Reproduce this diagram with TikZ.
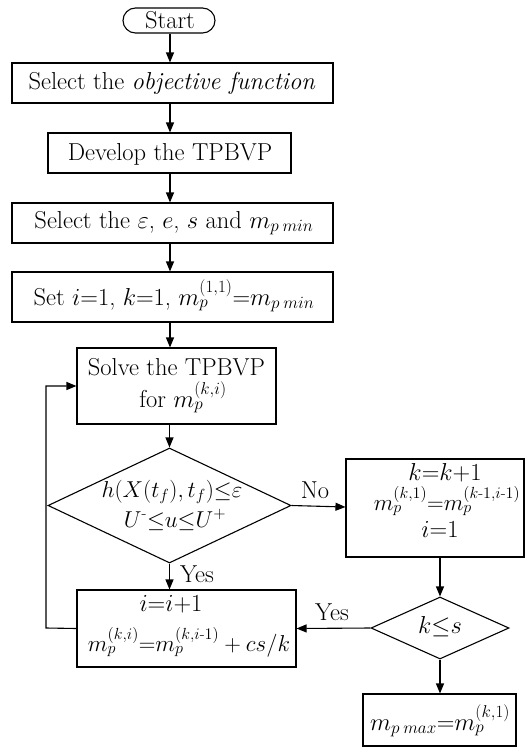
\RequirePackage{fix-cm}
\documentclass[tikz,border=0pt]{standalone}
\usepackage{amsmath}
\usetikzlibrary{shapes.geometric,shapes.misc,arrows.meta}
\begin{document}
\begin{tikzpicture}[x=1pt,y=-1pt,
  every node/.style={font=\fontsize{24.5}{30}\selectfont},
  small/.style={font=\fontsize{23}{28}\selectfont},
  box/.style={draw,line width=1.1pt,rectangle,inner sep=0pt},
  dia/.style={draw,line width=1.1pt,diamond,inner sep=0pt},
  term/.style={draw,line width=1.1pt,rounded rectangle,inner sep=0pt},
  arr/.style={line width=1.1pt,-{Triangle[length=10pt,width=8pt]}},
  txt/.style={inner sep=0pt,anchor=base}]
\useasboundingbox (0,0) rectangle (528,747);
% shapes
\node[term,minimum width=92,minimum height=25] (start) at (169,20.5) {};
\node[box,minimum width=321,minimum height=40] (b1) at (172.5,83) {};
\node[box,minimum width=243,minimum height=40] (b2) at (169.5,153) {};
\node[box,minimum width=321,minimum height=40] (b3) at (172.5,223) {};
\node[box,minimum width=321,minimum height=50] (b4) at (172.5,297) {};
\node[box,minimum width=199,minimum height=76] (b5) at (176.5,386) {};
\node[dia,minimum width=243,minimum height=115] (d1) at (169.5,505.5) {};
\node[box,minimum width=178,minimum height=98] (rb) at (435,508) {};
\node[box,minimum width=219,minimum height=77] (b6) at (186.5,628.5) {};
\node[dia,minimum width=138,minimum height=62] (d2) at (440,628) {};
\node[box,minimum width=153,minimum height=52] (fb) at (439.5,720) {};
% texts
\node[txt] (t0) at (170,28) {Start};
\node[txt] (t1) at (172,89) {Select the \textit{objective function}};
\node[txt] (t2) at (170,160) {Develop the TPBVP};
\node[txt] (t3) at (174,228) {Select the $\varepsilon$, $e$, $s$ and $m_{p\:min}$};
\node[txt] (t4) at (174,305) {Set $i{=}1$, $k{=}1$, $m_p^{(1,1)}{=}m_{p\:min}$};
\node[txt] (t5a) at (176.5,375) {Solve the TPBVP};
\node[txt] (t5b) at (183,407) {for $m_p^{(k,i)}$};
\node[txt,small] (t6a) at (172,497) {$h(X(t_f),t_f){\le}\varepsilon$};
\node[txt,small] (t6b) at (175,527) {$U^{\text{-}}{\le}u{\le}U^+$};
\node[txt] (t7a) at (445,480) {$k{=}k{+}1$};
\node[txt,small] (t7b) at (447,510) {$m_p^{(k,1)}{=}m_p^{(k\text{-}1,i\text{-}1)}$};
\node[txt] (t7c) at (440,537) {$i{=}1$};
\node[txt] (t8a) at (171,611) {$i{=}i{+}1$};
\node[txt,small] (t8b) at (189,651) {$m_p^{(k,i)}{=}m_p^{(k,i\text{-}1)}+cs/k$};
\node[txt] (t9) at (440,633) {$k{\le}s$};
\node[txt] (t10) at (440,730) {$m_{p\:max}{=}m_p^{(k,1)}$};
\node[txt] (lno) at (315,498) {No};
\node[txt] (lyes1) at (197,582) {Yes};
\node[txt] (lyes2) at (332,620) {Yes};
% connectors
\coordinate (lp) at (46,628);
\draw[arr] (start.south -| 170,0) -- (b1.north -| 170,0);
\draw[arr] (b1.south -| 170,0) -- (b2.north -| 170,0);
\draw[arr] (b2.south -| 170,0) -- (b3.north -| 170,0);
\draw[arr] (b3.south -| 170,0) -- (b4.north -| 170,0);
\draw[arr] (b4.south -| 170,0) -- (b5.north -| 170,0);
\draw[arr] (b5.south -| d1.north) -- (d1.north);
\draw[arr] (d1.east) -- (rb.west |- 0,507);
\draw[arr] (d1.south) -- (d1.south |- b6.north);
\draw[arr] (b6.west) -- (lp) |- (b5.west);
\draw[arr] (rb.south -| d2.north) -- (d2.north);
\draw[arr] (d2.west) -- (b6.east);
\draw[arr] (d2.south) -- (fb.north -| d2.south);
\end{tikzpicture}
\end{document}
